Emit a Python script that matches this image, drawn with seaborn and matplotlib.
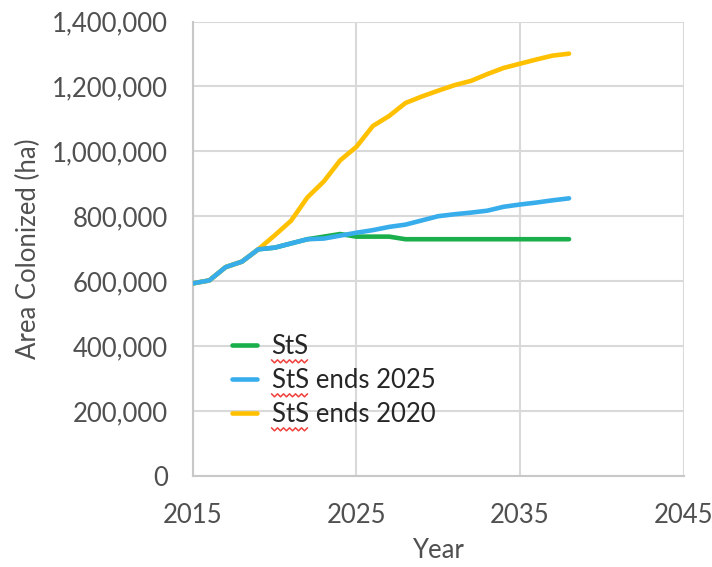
import pandas as pd
import seaborn as sns
import matplotlib.pyplot as plt
from matplotlib.lines import Line2D
from matplotlib.ticker import FuncFormatter

# values
years = list(range(2015, 2039))
sts = [593000, 602000, 643000, 660000, 698000, 703000, 716000, 729000,
       737000, 745000, 737000, 737000, 737000, 729000, 729000, 729000,
       729000, 729000, 729000, 729000, 729000, 729000, 729000, 729000]
sts_2025 = [593000, 602000, 643000, 660000, 698000, 703000, 716000, 729000,
            731000, 740000, 749000, 757000, 767000, 774000, 787000, 800000,
            806000, 811000, 817000, 829000, 836000, 842000, 849000, 855000]
sts_2020 = [593000, 602000, 643000, 660000, 698000, 741000, 786000, 858000,
            907000, 972000, 1014000, 1078000, 1109000, 1149000, 1169000, 1187000,
            1204000, 1217000, 1238000, 1257000, 1270000, 1283000, 1295000, 1301000]
series_names = ['StS', 'StS ends 2025', 'StS ends 2020']
x_ticks = [2015, 2025, 2035, 2045]
y_ticks = list(range(0, 1400001, 200000))

df = pd.DataFrame({
    'Year': years * 3,
    'Area': sts + sts_2025 + sts_2020,
    'Scenario': [series_names[0]] * len(years) + [series_names[1]] * len(years)
                + [series_names[2]] * len(years),
})

sns.set_style("white")
plt.rcParams['font.family'] = ['Lato', 'DejaVu Sans']

fig = plt.figure(figsize=(7.12, 5.67), dpi=100)
ax = fig.add_axes([0.271, 0.161, 0.689, 0.801])

palette = {'StS': '#1AAF4B', 'StS ends 2025': '#38ADEB', 'StS ends 2020': '#FFC000'}
sns.lineplot(data=df, x='Year', y='Area', hue='Scenario', hue_order=series_names,
             palette=palette, linewidth=3.3, ax=ax, legend=False)
# blue sits on top where the series overlap
ax.lines[0].set_zorder(3)
ax.lines[2].set_zorder(4)
ax.lines[1].set_zorder(5)

ax.set_xlim(2015, 2045)
ax.set_ylim(0, 1400000)
ax.set_xticks(x_ticks)
ax.set_yticks(y_ticks)
ax.yaxis.set_major_formatter(FuncFormatter(lambda v, p: f'{v:,.0f}'))
ax.grid(True, color='#d9d9d9', linewidth=1.5)
ax.set_axisbelow(True)
for s in ['top', 'right']:
    ax.spines[s].set_visible(False)
for s in ['left', 'bottom']:
    ax.spines[s].set_color('#c8c8c8')
    ax.spines[s].set_linewidth(1.5)
ax.tick_params(axis='both', length=0, labelsize=18.5, labelcolor='#505050')
ax.tick_params(axis='y', pad=18)
ax.tick_params(axis='x', pad=20)
ax.set_xlabel('Year', fontsize=18.5, color='#505050', labelpad=7)
ax.set_ylabel('Area Colonized (ha)', fontsize=18.5, color='#505050', labelpad=8)

handles = [Line2D([], [], color=palette[n], linewidth=3.3) for n in series_names]
leg = ax.legend(handles, series_names, loc='upper left', bbox_to_anchor=(0.058, 0.335),
                frameon=False, fontsize=18.5, handlelength=1.0, handletextpad=0.55,
                labelspacing=0.35, borderaxespad=0)

# red spell-check squiggles under "StS"
fig.canvas.draw()
r = fig.canvas.get_renderer()
probe = fig.text(0, 0, 'StS', fontsize=18.5)
w = probe.get_window_extent(r).width
probe.remove()
for t in leg.get_texts():
    bb = t.get_window_extent(r)
    x0, y0 = bb.x0, bb.y0 - 1
    n = int(w // 3)
    xs = [(x0 + i * 3) / fig.bbox.width for i in range(n + 1)]
    ys = [(y0 - (i % 2) * 3) / fig.bbox.height for i in range(n + 1)]
    fig.add_artist(Line2D(xs, ys, color='#f0413c', linewidth=1.1))

fig.savefig('out.png', dpi=100)
